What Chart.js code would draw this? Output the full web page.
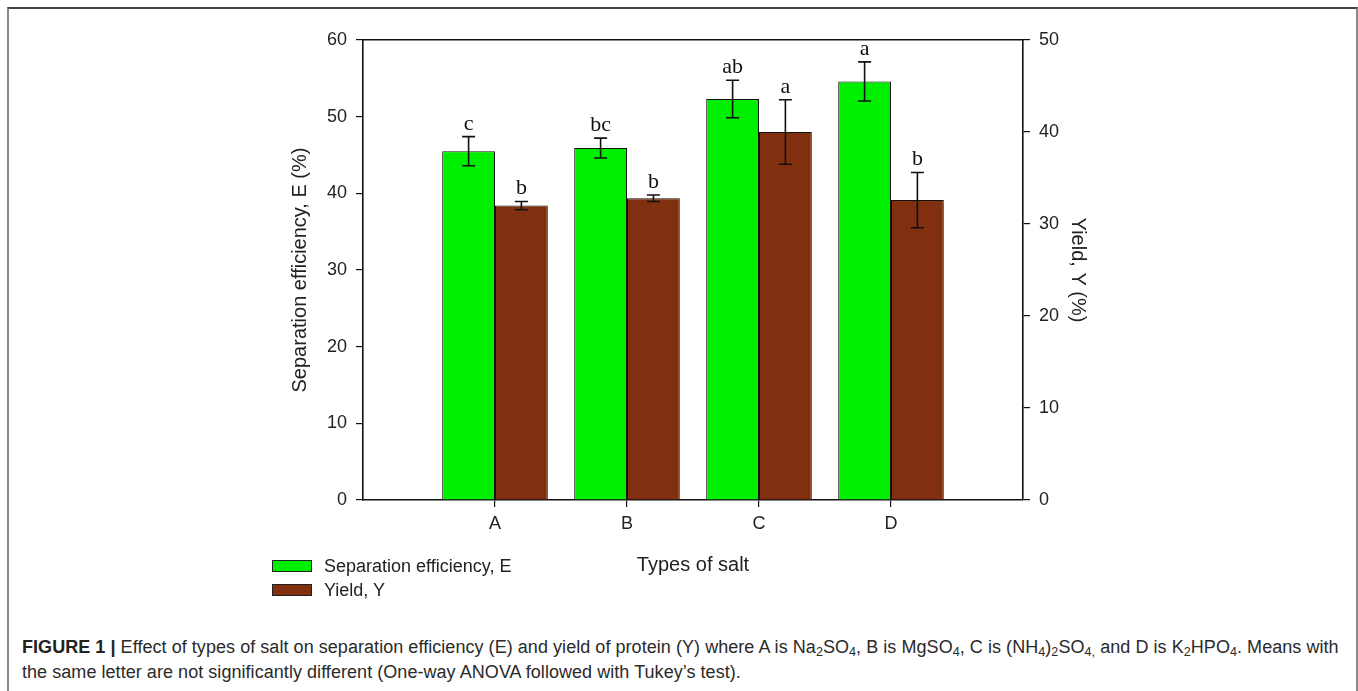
<!DOCTYPE html>
<html>
<head>
<meta charset="utf-8">
<script src="https://cdn.jsdelivr.net/npm/chart.js@4"></script>
<style>
  html, body { margin:0; padding:0; background:#fff; }
  body { width:1358px; height:691px; position:relative; overflow:hidden; font-family:'Liberation Sans', Arial, sans-serif; }
  #frame { position:absolute; left:7px; top:7px; width:1347px; height:700px; border-top:2px solid #444; border-left:2px solid #8a8a8a; border-right:2px solid #8a8a8a; box-sizing:content-box; }
  #c { position:absolute; left:0; top:0; }
  .leg { position:absolute; left:272px; font-size:18px; color:#222; white-space:nowrap; }
  .leg span.box { position:absolute; left:0; width:40px; height:12px; border:1px solid #222; box-sizing:border-box; }
  .leg span.txt { position:absolute; left:52px; line-height:22px; }
  #caption { position:absolute; left:22px; top:635px; font-size:18px; line-height:25px; color:#2a2a2a; white-space:nowrap; letter-spacing:0.05px; }
  #caption b { font-weight:bold; color:#222; }
  #caption sub { font-size:70%; vertical-align:-3px; line-height:0; }
</style>
</head>
<body>
<div id="frame"></div>
<canvas id="c" width="1358" height="610"></canvas>
<div id="legend"></div>
<div id="caption"><b>FIGURE 1 |</b> Effect of types of salt on separation efficiency (E) and yield of protein (Y) where A is Na<sub>2</sub>SO<sub>4</sub>, B is MgSO<sub>4</sub>, C is (NH<sub>4</sub>)<sub>2</sub>SO<sub>4,</sub> and D is K<sub>2</sub>HPO<sub>4</sub>. Means with<br>the same letter are not significantly different (One-way ANOVA followed with Tukey’s test).</div>
<script>
// ---- data ----
const categories = ['A', 'B', 'C', 'D'];
const effValues  = [45.5, 45.9, 52.3, 54.6];
const effErrors  = [1.9, 1.3, 2.45, 2.55];
const effLetters = ['c', 'bc', 'ab', 'a'];
const yldValues  = [32.0, 32.8, 40.0, 32.6];
const yldErrors  = [0.45, 0.35, 3.5, 3.0];
const yldLetters = ['b', 'b', 'a', 'b'];
const leftTicks  = [0, 10, 20, 30, 40, 50, 60];
const rightTicks = [0, 10, 20, 30, 40, 50];
const seriesNames  = ['Separation efficiency, E', 'Yield, Y'];
const seriesColors = ['#00ee00', '#80300f'];

// pad with empty slots so the categories sit at 1..4 on a 0..5 axis
const labels = [''].concat(categories, ['']);
const pad = a => [null].concat(a, [null]);

const SANS = "'Liberation Sans', Arial, sans-serif";
const SERIF = "'Liberation Serif', 'Times New Roman', serif";

const errorPlugin = {
  id: 'errorBars',
  afterDatasetsDraw(chart) {
    const ctx = chart.ctx;
    chart.data.datasets.forEach((ds, di) => {
      const meta = chart.getDatasetMeta(di);
      const scale = chart.scales[ds.yAxisID];
      meta.data.forEach((el, i) => {
        const v = ds.data[i];
        if (v === null || v === undefined) return;
        const e = ds.errors[i];
        const x = el.x;
        const yT = scale.getPixelForValue(v + e);
        const yB = scale.getPixelForValue(v - e);
        ctx.save();
        ctx.strokeStyle = '#111';
        ctx.lineWidth = 1.6;
        ctx.beginPath();
        ctx.moveTo(x, yT); ctx.lineTo(x, yB);
        ctx.moveTo(x - 6.5, yT); ctx.lineTo(x + 6.5, yT);
        ctx.moveTo(x - 6.5, yB); ctx.lineTo(x + 6.5, yB);
        ctx.stroke();
        ctx.fillStyle = '#111';
        ctx.font = '22px ' + SERIF;
        ctx.textAlign = 'center';
        ctx.textBaseline = 'alphabetic';
        ctx.fillText(ds.letters[i], x, yT - 7);
        ctx.restore();
      });
    });
  }
};

const tickColor = c => (c.index === 0 || c.index === labels.length - 1) ? 'rgba(0,0,0,0)' : '#111';

new Chart(document.getElementById('c'), {
  type: 'bar',
  data: {
    labels: labels,
    datasets: [
      { label: seriesNames[0], data: pad(effValues), errors: pad(effErrors), letters: pad(effLetters),
        backgroundColor: seriesColors[0], borderColor: '#111', borderWidth: 1, yAxisID: 'y',
        categoryPercentage: 0.8, barPercentage: 1.0 },
      { label: seriesNames[1], data: pad(yldValues), errors: pad(yldErrors), letters: pad(yldLetters),
        backgroundColor: seriesColors[1], borderColor: '#111', borderWidth: 1, yAxisID: 'y2',
        categoryPercentage: 0.8, barPercentage: 1.0 }
    ]
  },
  options: {
    responsive: false,
    animation: false,
    devicePixelRatio: 1,
    layout: { padding: { left: 280, right: 265, top: 40, bottom: 30 } },
    plugins: { legend: { display: false }, tooltip: { enabled: false } },
    scales: {
      x: {
        type: 'category', offset: false, position: 'bottom',
        grid: { offset: false, drawOnChartArea: false, drawTicks: true, tickLength: 7, color: tickColor, lineWidth: 1.2 },
        border: { display: true, color: '#111', width: 1.6 },
        ticks: { font: { family: SANS, size: 18 }, color: '#222', padding: 6, maxRotation: 0, autoSkip: false },
        title: { display: true, text: 'Types of salt', font: { family: SANS, size: 20 }, color: '#222', padding: { top: 0, bottom: 3 } },
        afterFit: s => { s.height = 80; }
      },
      xTop: {
        type: 'category', position: 'top', labels: labels, offset: false,
        grid: { display: false, drawTicks: false },
        border: { display: true, color: '#111', width: 1.6 },
        ticks: { display: false },
        afterFit: s => { s.height = 0; }
      },
      y: {
        position: 'left', min: 0, max: 60,
        afterBuildTicks: s => { s.ticks = leftTicks.map(v => ({ value: v })); },
        grid: { drawOnChartArea: false, drawTicks: true, tickLength: 7, color: '#111', lineWidth: 1.2 },
        border: { display: true, color: '#111', width: 1.6 },
        ticks: { font: { family: SANS, size: 18 }, color: '#222', padding: 9 },
        title: { display: true, text: 'Separation efficiency, E (%)', font: { family: SANS, size: 20 }, color: '#222', padding: { top: 8, bottom: 0 } },
        afterFit: s => { s.width = 83; }
      },
      y2: {
        position: 'right', min: 0, max: 50,
        afterBuildTicks: s => { s.ticks = rightTicks.map(v => ({ value: v })); },
        grid: { drawOnChartArea: false, drawTicks: true, tickLength: 7, color: '#111', lineWidth: 1.2 },
        border: { display: true, color: '#111', width: 1.6 },
        ticks: { font: { family: SANS, size: 18 }, color: '#222', padding: 9 },
        title: { display: true, text: 'Yield, Y (%)', font: { family: SANS, size: 20 }, color: '#222', padding: { top: 3, bottom: 0 } },
        afterFit: s => { s.width = 70; }
      }
    }
  },
  plugins: [errorPlugin]
});

// legend built from the series arrays
const legendDiv = document.getElementById('legend');
const legTops = [560, 584];
seriesNames.forEach((n, i) => {
  const d = document.createElement('div');
  d.className = 'leg';
  d.style.top = legTops[i] + 'px';
  d.innerHTML = '<span class="box" style="top:0;background:' + seriesColors[i] + '"></span><span class="txt" style="top:-5px">' + n + '</span>';
  legendDiv.appendChild(d);
});
</script>
</body>
</html>
